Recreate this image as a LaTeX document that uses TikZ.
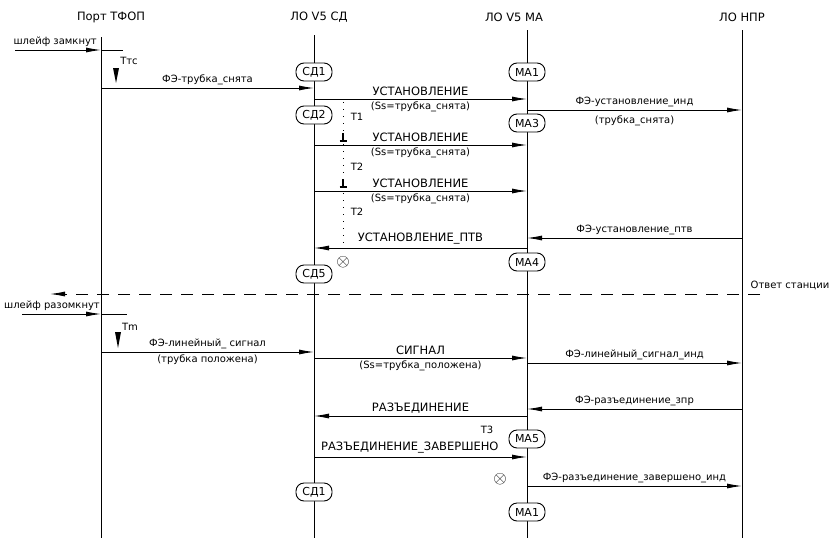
\documentclass[tikz,border=0pt]{standalone}
\usepackage{fontspec}
\setmainfont{DejaVu Sans}
\usetikzlibrary{arrows.meta}

\tikzset{
  lifeline/.style={line width=1pt},
  msg/.style={line width=0.9pt,-{Latex[length=15pt,width=5pt]}},
  statebox/.style={draw,line width=0.9pt,rounded corners=8pt,fill=white,minimum width=36pt,minimum height=18pt,inner sep=1pt,font=\fontsize{11}{12}\selectfont},
  hdr/.style={font=\fontsize{11.5}{13}\selectfont},
  fe/.style={font=\fontsize{10}{12}\selectfont,inner sep=1pt},
  sig/.style={font=\fontsize{11.5}{13}\selectfont,inner sep=1pt},
  tmark/.style={line width=1.3pt},
  stopmark/.style={inner sep=0pt,font=\fontsize{16}{18}\selectfont},
}

\begin{document}
\begin{tikzpicture}[x=1pt,y=-1pt]
  \useasboundingbox (0,0) rectangle (837,546);

  % headers
  \node[hdr] (hport) at (111,17) {Порт ТФОП};
  \node[hdr] (hsd) at (319,17) {ЛО V5 СД};
  \node[hdr] (hma) at (514,17) {ЛО V5 МА};
  \node[hdr] (hnpr) at (742,17) {ЛО НПР};

  % lifelines
  \coordinate (port) at (101,37);
  \coordinate (sd) at (314,35);
  \coordinate (ma) at (527,30);
  \coordinate (npr) at (742,30);
  \draw[lifeline] (port) -- (port |- 0,538);
  \draw[lifeline] (sd) -- (sd |- 0,538);
  \draw[lifeline] (ma) -- (ma |- 0,538);
  \draw[lifeline] (npr) -- (npr |- 0,538);

  % loop closed
  \coordinate (lz) at (15,50);
  \node[fe,anchor=east] (lzlbl) at (98,42) {шлейф замкнут};
  \draw[msg] (lz) -- (port |- lz);
  \draw[msg,-] (port |- lz) -- ++(22,0);
  \fill (113,68) -- (119,68) -- (116,83) -- cycle;
  \node[fe] (ttc) at (129,61) {Ттс};

  \draw[msg] (port |- 0,88) -- node[fe,above=2pt] {ФЭ-трубка\_снята} (sd |- 0,88);

  % set-up with repeats
  \draw[msg] (sd |- 0,99) -- node[sig,above=2pt] {УСТАНОВЛЕНИЕ}
    node[fe,below=1pt] {(Ss=трубка\_снята)} (ma |- 0,99);
  \draw[msg] (ma |- 0,110) -- node[fe,above=2pt] {ФЭ-установление\_инд}
    node[fe,below=4pt] {(трубка\_снята)} (npr |- 0,110);

  \draw[line width=1pt,dash pattern=on 1pt off 6pt] (343,102) -- (343,243);
  \node[fe] (t1) at (357,117) {T1};
  \draw[tmark] (343,133) -- (343,141) (339.5,141) -- (346.5,141);
  \draw[msg] (sd |- 0,145) -- node[sig,above=2pt] {УСТАНОВЛЕНИЕ}
    node[fe,below=1pt] {(Ss=трубка\_снята)} (ma |- 0,145);
  \node[fe] (t2a) at (357,167) {T2};
  \draw[tmark] (343,179) -- (343,187) (339.5,187) -- (346.5,187);
  \draw[msg] (sd |- 0,191) -- node[sig,above=2pt] {УСТАНОВЛЕНИЕ}
    node[fe,below=1pt] {(Ss=трубка\_снята)} (ma |- 0,191);
  \node[fe] (t2b) at (357,212) {T2};

  \draw[msg] (npr |- 0,238) -- node[fe,above=2pt] {ФЭ-установление\_птв} (ma |- 0,238);
  \draw[msg] (ma |- 0,248) -- node[sig,above=2pt] {УСТАНОВЛЕНИЕ\_ПТВ} (sd |- 0,248);
  \node[stopmark] (stop1) at (343,262) {$\otimes$};

  % answer
  \coordinate (ansR) at (760,294);
  \coordinate (ansL) at (50,294);
  \draw[msg,dash pattern=on 12pt off 9pt] (ansR) -- (ansL);
  \node[fe] (ans) at (790,285) {Ответ станции};

  % loop open
  \coordinate (lr) at (22,314);
  \node[fe,anchor=east] (lrlbl) at (101,306) {шлейф разомкнут};
  \draw[msg] (lr) -- (port |- lr);
  \draw[msg,-] (port |- lr) -- ++(26,0);
  \fill (115,332) -- (121,332) -- (118,348) -- cycle;
  \node[fe] (tm) at (130,327) {Tm};

  \draw[msg] (port |- 0,352) -- node[fe,above=2pt] {ФЭ-линейный\_ сигнал}
    node[fe,below=1pt] {(трубка положена)} (sd |- 0,352);
  \draw[msg] (sd |- 0,358) -- node[sig,above=2pt] {СИГНАЛ}
    node[fe,below=1pt] {(Ss=трубка\_положена)} (ma |- 0,358);
  \draw[msg] (ma |- 0,363) -- node[fe,above=2pt] {ФЭ-линейный\_сигнал\_инд} (npr |- 0,363);

  % release
  \draw[msg] (npr |- 0,409) -- node[fe,above=2pt] {ФЭ-разъединение\_зпр} (ma |- 0,409);
  \draw[msg] (ma |- 0,416) -- node[sig,above=1pt] {РАЗЪЕДИНЕНИЕ} (sd |- 0,416);
  \node[fe] (t3) at (487,430) {T3};
  \draw[msg] (sd |- 0,457) -- node[sig,above=2pt,pos=0.45] {РАЗЪЕДИНЕНИЕ\_ЗАВЕРШЕНО} (ma |- 0,457);
  \node[stopmark] (stop2) at (500,479) {$\otimes$};
  \draw[msg] (ma |- 0,486) -- node[fe,above=2pt] {ФЭ-разъединение\_завершено\_инд} (npr |- 0,486);

  % states
  \node[statebox] (sd1) at (314,72) {СД1};
  \node[statebox] (ma1) at (527,72) {МА1};
  \node[statebox] (sd2) at (314,115) {СД2};
  \node[statebox] (ma3) at (527,123) {МА3};
  \node[statebox] (ma4) at (527,262) {МА4};
  \node[statebox] (sd5) at (314,274) {СД5};
  \node[statebox] (ma5) at (527,439) {МА5};
  \node[statebox] (sd1b) at (314,492) {СД1};
  \node[statebox] (ma1b) at (527,512) {МА1};
\end{tikzpicture}
\end{document}
